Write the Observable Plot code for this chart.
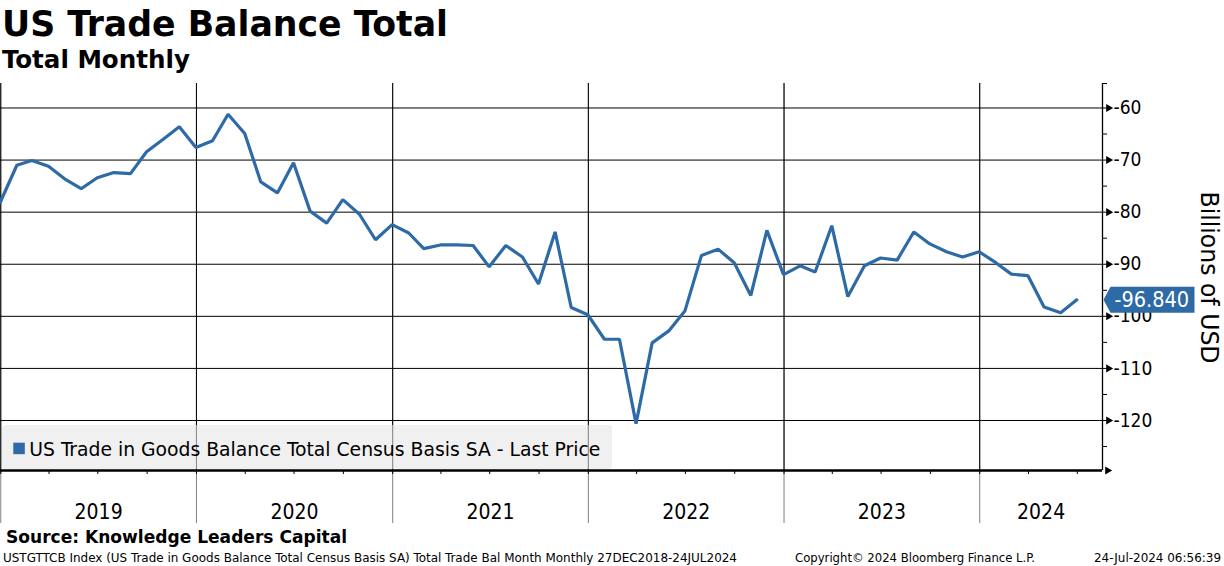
<!DOCTYPE html>
<html>
<head>
<meta charset="utf-8">
<script src="https://cdn.jsdelivr.net/npm/d3@7"></script>
<script src="https://cdn.jsdelivr.net/npm/@observablehq/plot@0.6"></script>
<style>
  body { margin: 0; background: #fff; }
  #wrap { position: relative; width: 1224px; height: 566px; overflow: hidden; background: #fff; }
  #chart { position: absolute; left: 0; top: 80px; }
  #overlay { position: absolute; left: 0; top: 0; pointer-events: none; }
</style>
</head>
<body>
<div id="wrap"><div id="chart"></div></div>
<script>
// ---------- data ----------
const months = [
  "2018-12",
  "2019-01","2019-02","2019-03","2019-04","2019-05","2019-06","2019-07","2019-08","2019-09","2019-10","2019-11","2019-12",
  "2020-01","2020-02","2020-03","2020-04","2020-05","2020-06","2020-07","2020-08","2020-09","2020-10","2020-11","2020-12",
  "2021-01","2021-02","2021-03","2021-04","2021-05","2021-06","2021-07","2021-08","2021-09","2021-10","2021-11","2021-12",
  "2022-01","2022-02","2022-03","2022-04","2022-05","2022-06","2022-07","2022-08","2022-09","2022-10","2022-11","2022-12",
  "2023-01","2023-02","2023-03","2023-04","2023-05","2023-06","2023-07","2023-08","2023-09","2023-10","2023-11","2023-12",
  "2024-01","2024-02","2024-03","2024-04","2024-05","2024-06"
];
const values = [
  -78.1,
  -71.0, -70.1, -71.2, -73.6, -75.5, -73.4, -72.4, -72.6, -68.4, -66.0, -63.6, -67.6,
  -66.3, -61.2, -64.9, -74.2, -76.3, -70.5, -79.8, -82.1, -77.6, -80.4, -85.3, -82.4,
  -84.0, -87.0, -86.3, -86.3, -86.4, -90.5, -86.4, -88.6, -93.8, -83.8, -98.3, -99.7,
  -104.4, -104.4, -120.6, -105.1, -102.8, -99.0, -88.3, -87.1, -89.7, -96.0, -83.5, -92.0,
  -90.3, -91.5, -82.6, -96.2, -90.3, -88.8, -89.2, -83.8, -86.1, -87.6, -88.6, -87.6,
  -89.7, -91.9, -92.2, -98.2, -99.3, -96.84
];
const years = [2019, 2020, 2021, 2022, 2023, 2024];
const yTicks = [-60, -70, -80, -90, -100, -110, -120];
const yMinorTicks = [-65, -75, -85, -95, -105, -115, -125];
const yDomain = [-129.6, -55.3];
const xDomain = [new Date("2018-12-31T12:00:00Z"), new Date("2024-08-17T00:00:00Z")];

const titleText = "US Trade Balance Total";
const subtitleText = "Total Monthly";
const yLabel = "Billions of USD";
const legendText = "US Trade in Goods Balance Total Census Basis SA - Last Price";
const sourceText = "Source: Knowledge Leaders Capital";
const footLeft = "USTGTTCB Index (US Trade in Goods Balance Total Census Basis SA) Total Trade Bal Month  Monthly 27DEC2018-24JUL2024";
const footMid = "Copyright\u00A9 2024 Bloomberg Finance L.P.";
const footRight = "24-Jul-2024 06:56:39";

// ---------- derived ----------
const FONT = '"DejaVu Sans Condensed", "DejaVu Sans", sans-serif';
const BLUE = "#2e6aa5";
const parseM = d3.utcParse("%Y-%m");
const data = months.map((m, i) => ({
  date: d3.utcDay.offset(d3.utcMonth.offset(parseM(m), 1), -1),
  value: values[i]
}));
const last = data[data.length - 1];
const [x0, x1] = xDomain;
const yearStarts = years.map(y => new Date(Date.UTC(y, 0, 1)));
const yearMids = years.map(y => {
  const a = Math.max(+new Date(Date.UTC(y, 0, 1)), +x0);
  const b = Math.min(+new Date(Date.UTC(y + 1, 0, 1)), +x1);
  return {year: y, date: new Date((a + b) / 2)};
});
const quarters = d3.utcMonth.every(3).range(new Date(Date.UTC(2019, 0, 1)), x1);

const tagSymbol = {
  draw(ctx) {
    ctx.moveTo(0, 0);
    ctx.lineTo(7, -13);
    ctx.lineTo(91, -13);
    ctx.lineTo(91, 13);
    ctx.lineTo(7, 13);
    ctx.closePath();
  }
};

const chart = Plot.plot({
  width: 1224,
  height: 450,
  marginTop: 3,
  marginBottom: 60,
  marginLeft: 0,
  marginRight: 122,
  style: {fontFamily: FONT, background: "transparent", color: "#000", overflow: "visible"},
  x: {type: "utc", domain: xDomain},
  y: {domain: yDomain},
  marks: [
    Plot.ruleX(yearStarts, {stroke: "#808080", strokeWidth: 1, insetBottom: -53}),
    Plot.gridY(yTicks, {stroke: "#000", strokeOpacity: 1, strokeWidth: 1}),
    Plot.ruleX(yearStarts, {stroke: "#000", strokeWidth: 1}),
    Plot.ruleX([x1], {stroke: "#000", strokeWidth: 1.3}),
    Plot.axisY(yMinorTicks.concat([yDomain[1]]), {anchor: "right", tickSize: 4, tickFormat: () => "", label: null}),
    Plot.axisY(yTicks, {anchor: "right", tickSize: 8, tickPadding: 3, tickFormat: d => String(d), fontSize: 19, label: null}),
    Plot.dot(yTicks, {x: () => x1, y: d => d, symbol: "triangle", rotate: 90, r: 3, fill: "#000", dx: 6}),
    Plot.axisX(quarters, {anchor: "bottom", tickSize: 4, tickFormat: () => "", label: null}),
    Plot.ruleY([yDomain[0]], {stroke: "#000", strokeWidth: 2.5}),
    Plot.dot([yDomain[0]], {x: () => x1, y: d => d, symbol: "triangle", rotate: 90, r: 3, fill: "#000", dx: 5}),
    Plot.text(yearMids, {x: "date", text: d => String(d.year), frameAnchor: "bottom", lineAnchor: "middle", dy: 42, fontSize: 21}),
    Plot.line(data, {x: "date", y: "value", stroke: BLUE, strokeWidth: 3.2, strokeLinejoin: "miter"}),
    Plot.dot([last], {x: () => x1, y: "value", symbol: tagSymbol, fill: BLUE, r: 5, dx: 1}),
    Plot.text([last], {x: () => x1, y: "value", text: d => d.value.toFixed(3), textAnchor: "start", lineAnchor: "middle", dx: 12, fill: "#fff", fontSize: 21.5})
  ]
});
document.getElementById("chart").appendChild(chart);

// ---------- overlay: titles, y label, legend, footer ----------
const ov = d3.select("#wrap").append("svg")
  .attr("id", "overlay").attr("width", 1224).attr("height", 566)
  .style("font-family", FONT);

function txt(s, x, y, size, width, bold) {
  const t = ov.append("text")
    .attr("x", x).attr("y", y)
    .attr("font-size", size)
    .attr("font-weight", bold ? "bold" : "normal")
    .attr("fill", "#000")
    .text(s);
  if (width) t.attr("textLength", width).attr("lengthAdjust", "spacingAndGlyphs");
  return t;
}

txt(titleText, 2, 36, 35, 446, true);
txt(subtitleText, 2, 68, 24, 188, true);

// y axis label, centred on the plot frame
const ys = chart.scale("y");
const cy = 80 + (ys.apply(yDomain[0]) + ys.apply(yDomain[1])) / 2;
ov.append("text")
  .attr("transform", `translate(1201,${cy + 1}) rotate(90)`)
  .attr("text-anchor", "middle")
  .attr("font-size", 24)
  .attr("textLength", 172).attr("lengthAdjust", "spacingAndGlyphs")
  .attr("fill", "#000")
  .text(yLabel);

// legend box inside plot
ov.append("rect").attr("x", 2).attr("y", 425).attr("width", 610).attr("height", 44)
  .attr("rx", 3).attr("fill", "rgb(230,230,230)").attr("fill-opacity", 0.6);
ov.append("rect").attr("x", 13.3).attr("y", 442.7).attr("width", 11.5).attr("height", 11.5).attr("fill", BLUE);
txt(legendText, 29.3, 456, 20, 571, false);

txt(sourceText, 6, 543, 18, 341, true);
txt(footLeft, 3, 561.5, 12, 734, false);
txt(footMid, 795, 561.5, 12, 240, false);
txt(footRight, 1094, 561.5, 12, 127, false);
</script>
</body>
</html>
